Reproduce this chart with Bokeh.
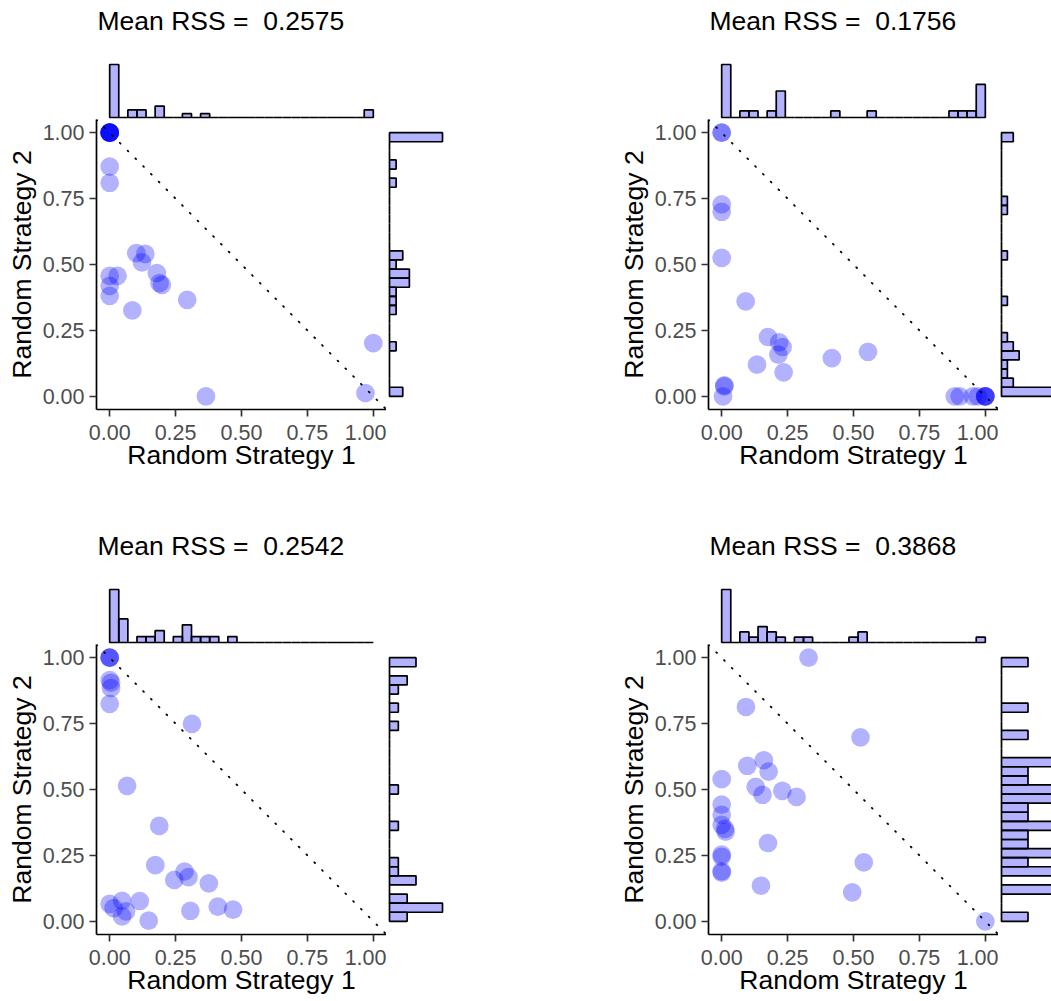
import numpy as np
from bokeh.plotting import figure
from bokeh.layouts import row, column
from bokeh.models import FixedTicker, NumeralTickFormatter, Slope, Range1d, Label
from bokeh.embed import file_html
from bokeh.resources import INLINE

# ---------------- data ----------------
titles = ["Mean RSS =\u00a0 0.2575", "Mean RSS =\u00a0 0.1756",
          "Mean RSS =\u00a0 0.2542", "Mean RSS =\u00a0 0.3868"]
x_label = "Random Strategy 1"
y_label = "Random Strategy 2"
tick_values = [0.0, 0.25, 0.5, 0.75, 1.0]
n_bins = 29

x1 = [0, 0, 0, 0, 0, 0, 0, 0, 0, 0, 0, 0.03, 0, 0, 0.086, 0.101, 0.135, 0.1225,
      0.179, 0.189, 0.198, 0.294, 0.365, 0.97, 1.0]
y1 = [1, 1, 1, 1, 1, 1, 1, 1, 0.871, 0.81, 0.457, 0.457, 0.419, 0.381, 0.326, 0.543,
      0.540, 0.508, 0.467, 0.429, 0.423, 0.366, 0.0, 0.0126, 0.202]

x2 = [0, 0, 0, 0, 0, 0.091, 0.1755, 0.218, 0.231, 0.215, 0.134, 0.235, 0.418, 0.555,
      0.01, 0.01, 0.005, 0.884, 0.903, 0.953, 0.972, 1.0, 1.0, 1.0, 1.0]
y2 = [1, 1, 0.728, 0.70, 0.525, 0.36, 0.225, 0.2045, 0.187, 0.158, 0.12, 0.091, 0.145,
      0.169, 0.042, 0.038, 0.0, 0.0, 0.0, 0.0, 0.0, 0.0, 0.0, 0.0, 0.0]

x3 = [0, 0, 0, 0, 0.005, 0.005, 0, 0.312, 0.066, 0.188, 0.173, 0.284, 0.299, 0.245,
      0.376, 0.41, 0.468, 0.306, 0.148, 0.114, 0, 0.015, 0.047, 0.062, 0.047]
y3 = [1, 1, 1, 0.915, 0.905, 0.885, 0.825, 0.749, 0.514, 0.362, 0.213, 0.189, 0.168,
      0.157, 0.144, 0.0556, 0.044, 0.04, 0.0025, 0.077, 0.066, 0.05, 0.078, 0.038, 0.019]

x4 = [0.3295, 0.092, 0.5265, 0.160, 0.097, 0.178, 0, 0.129, 0.155, 0.230, 0.284, 0,
      0, 0, 0.0126, 0.015, 0, 0, 0, 0, 0.1755, 0.149, 0.495, 0.539, 1.0]
y4 = [1.0, 0.813, 0.698, 0.611, 0.590, 0.568, 0.539, 0.51, 0.48, 0.495, 0.472, 0.443,
      0.404, 0.366, 0.351, 0.34, 0.253, 0.245, 0.19, 0.185, 0.297, 0.135, 0.11, 0.2235, 0.0]

# ---------------- style ----------------
FONT = "Liberation Sans"
FRAME = 290      # main panel frame size
HIST = 57        # marginal depth for the right histogram
TOP_H = 119      # height of the top strip (title + top histogram)
BAR_PX = 53      # pixel length of tallest marginal bar
TITLE_Y = 20     # px from top of strip to title centre
FILL = "blue"
EDGE_W = 1.7


def style_axes(p):
    for ax in (p.xaxis[0], p.yaxis[0]):
        ax.ticker = FixedTicker(ticks=tick_values)
        ax.formatter = NumeralTickFormatter(format="0.00")
        ax.major_label_text_font = FONT
        ax.major_label_text_font_size = "21.5px"
        ax.major_label_text_color = "#4D4D4D"
        ax.axis_label_text_font = FONT
        ax.axis_label_text_font_size = "26.5px"
        ax.axis_label_text_font_style = "normal"
        ax.axis_label_text_color = "black"
        ax.axis_line_color = "black"
        ax.axis_line_width = 1.7
        ax.major_tick_line_color = "#333333"
        ax.major_tick_line_width = 1.7
        ax.major_tick_out = 7
        ax.major_tick_in = 0
        ax.minor_tick_line_color = None
    p.xaxis.major_label_standoff = 8
    p.xaxis.axis_label_standoff = -3
    p.yaxis.major_label_standoff = 5
    p.yaxis.axis_label_standoff = 3


def panel(xs, ys, title, lb, rw, bb):
    edges = np.linspace(0, 1, n_bins + 1)
    cx, _ = np.histogram(xs, bins=edges)
    cy, _ = np.histogram(ys, bins=edges)
    xr = Range1d(-0.05, 1.05)
    yr = Range1d(-0.05, 1.05)

    sx = cx.max() / BAR_PX
    top = figure(width=lb + FRAME, height=TOP_H, x_range=xr,
                 y_range=Range1d(-2 * sx, (TOP_H - 2) * sx),
                 min_border_left=lb, min_border_right=0, min_border_top=0,
                 min_border_bottom=0, x_axis_location=None, y_axis_location=None,
                 toolbar_location=None, output_backend="svg")
    top.grid.visible = False
    top.outline_line_color = None
    top.quad(left=edges[:-1], right=edges[1:], bottom=0, top=cx,
             fill_color=FILL, fill_alpha=0.3, line_color="black", line_width=EDGE_W)
    top.add_layout(Label(x=xr.start, y=(TOP_H - 2 - TITLE_Y) * sx, x_offset=1,
                         text=title, text_font=FONT, text_font_size="26.5px",
                         text_color="black", text_align="left",
                         text_baseline="middle"))

    main = figure(width=lb + FRAME, height=FRAME + bb, x_range=xr, y_range=yr,
                  min_border_left=lb, min_border_right=0, min_border_top=0,
                  min_border_bottom=bb, toolbar_location=None, output_backend="svg",
                  x_axis_label=x_label, y_axis_label=y_label)
    main.grid.visible = False
    main.outline_line_color = None
    style_axes(main)
    main.add_layout(Slope(gradient=-1, y_intercept=1, line_color="black",
                          line_width=1.8, line_dash="1 10", line_cap="round"))
    main.scatter(xs, ys, size=18.7, fill_color=FILL, fill_alpha=0.3, line_color=None)

    sy = cy.max() / BAR_PX
    right = figure(width=1 + rw, height=FRAME + bb, y_range=yr,
                   x_range=Range1d(-2 * sy, (rw - 2) * sy),
                   min_border_left=1, min_border_right=0, min_border_top=0,
                   min_border_bottom=bb, x_axis_location=None, y_axis_location=None,
                   toolbar_location=None, output_backend="svg")
    right.grid.visible = False
    right.outline_line_color = None
    right.quad(left=0, right=cy, bottom=edges[:-1], top=edges[1:],
               fill_color=FILL, fill_alpha=0.3, line_color="black", line_width=EDGE_W)

    return column(top, row(main, right, spacing=0), spacing=0)


p1 = panel(x1, y1, titles[0], 96, HIST, 116)
p2 = panel(x2, y2, titles[1], 264, 52, 116)
p3 = panel(x3, y3, titles[2], 96, HIST, 67)
p4 = panel(x4, y4, titles[3], 264, 52, 67)

p = column(row(p1, p2, spacing=0), row(p3, p4, spacing=0), spacing=0)

open("out.html", "w").write(file_html(p, INLINE))
